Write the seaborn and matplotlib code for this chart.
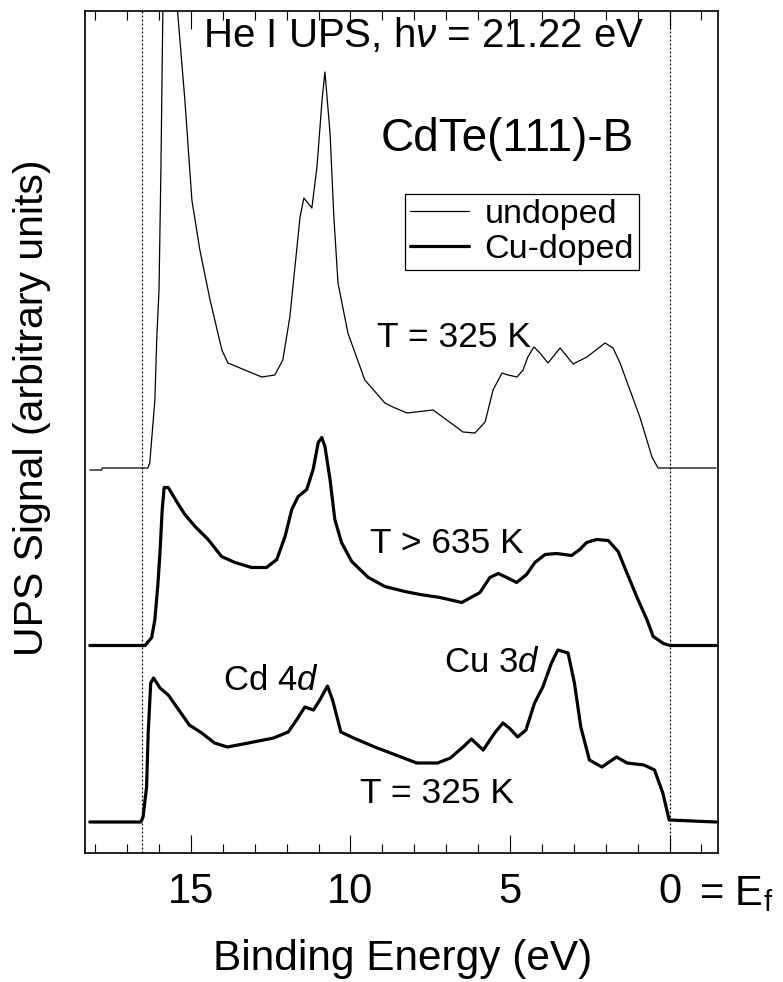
import numpy as np
import pandas as pd
import matplotlib
matplotlib.use("Agg")
import matplotlib.pyplot as plt
import seaborn as sns

# ---------------- data (binding energy in eV, UPS signal in arb. units above each baseline)
undoped_E = [18.17, 17.80, 17.78, 16.35, 16.29, 16.13, 16.07, 16.00, 15.94, 15.88, 15.75, 15.60,
             15.41, 15.19, 14.97, 14.72, 14.40, 14.03, 13.84, 13.31, 12.78, 12.37, 12.12, 11.90,
             11.74, 11.58, 11.46, 11.21, 11.05, 10.89, 10.80, 10.64, 10.52, 10.39, 10.08, 9.55,
             8.92, 8.67, 8.23, 7.41, 6.98, 6.47, 6.10, 5.78, 5.53, 5.25, 5.06, 4.78, 4.59, 4.44,
             4.25, 4.06, 3.81, 3.43, 3.02, 2.59, 2.02, 1.77, 1.55, 1.24, 0.93, 0.71, 0.55, 0.36, -1.46]
undoped_I = [-2, -2, 0, 0, 5, 68, 130, 178, 300, 457, 560, 520,
             453, 368, 268, 218, 168, 118, 105, 98, 91, 93, 108, 151,
             201, 251, 270, 260, 301, 368, 396, 335, 251, 185, 135, 88,
             65, 61, 55, 58, 48, 36, 35, 46, 78, 95, 93, 91, 98, 111,
             121, 115, 105, 120, 104, 111, 125, 120, 105, 78, 51, 28, 11, 0, 0]

cu_hot_E = [18.17, 16.44, 16.23, 16.13, 16.04, 15.97, 15.90, 15.84, 15.71, 15.45, 15.19, 14.87,
            14.46, 14.04, 13.62, 13.10, 12.63, 12.31, 12.05, 11.84, 11.64, 11.37, 11.17, 11.01,
            10.90, 10.80, 10.64, 10.49, 10.28, 9.96, 9.44, 8.92, 8.29, 7.82, 7.19, 6.51, 5.94,
            5.63, 5.37, 5.10, 4.79, 4.48, 4.22, 3.90, 3.54, 3.07, 2.81, 2.60, 2.28, 1.92, 1.61,
            1.34, 1.03, 0.71, 0.51, 0.19, -0.02, -1.46]
cu_hot_I = [0, 0, 8, 26, 59, 93, 136, 158, 158, 144, 131, 119,
            106, 89, 83, 78, 78, 86, 109, 136, 149, 156, 176, 203,
            208, 199, 166, 126, 103, 84, 68, 59, 54, 51, 48, 43, 53,
            68, 72, 68, 63, 71, 83, 91, 92, 90, 96, 103, 106, 105, 94,
            73, 49, 26, 9, 2, 0, 0]

cu_rt_E = [18.17, 16.57, 16.50, 16.39, 16.34, 16.26, 16.17, 15.97, 15.71, 15.38, 15.05, 14.66,
           14.26, 13.86, 13.20, 12.41, 11.95, 11.69, 11.43, 11.16, 10.96, 10.72, 10.56, 10.30,
           9.90, 9.24, 8.58, 7.92, 7.27, 6.87, 6.47, 6.21, 5.84, 5.48, 5.22, 5.02, 4.76, 4.50,
           4.23, 3.97, 3.70, 3.50, 3.18, 2.98, 2.78, 2.51, 2.12, 1.66, 1.33, 0.80, 0.47, 0.21,
           0.01, -1.46]
cu_rt_I = [0, 0, 5, 35, 89, 139, 144, 134, 127, 112, 97, 89,
           79, 75, 79, 84, 90, 102, 115, 112, 122, 136, 122, 90,
           84, 75, 67, 59, 59, 64, 75, 83, 72, 89, 99, 94, 85, 92,
           119, 135, 159, 172, 169, 139, 95, 62, 55, 65, 59, 57, 52, 29,
           2, 0]

offset_undoped = 385
offset_cu_hot = 207.5
offset_cu_rt = 31

x_ticks = [15, 10, 5, 0]
x_ticklabels = ["15", "10", "5", "0"]
edge_lines = [16.53, 0.0]

# ---------------- style
sns.set_style("ticks")
plt.rcParams["font.family"] = ["Liberation Sans", "DejaVu Sans"]
plt.rcParams["mathtext.fontset"] = "custom"
plt.rcParams["mathtext.rm"] = "Liberation Sans"
plt.rcParams["mathtext.it"] = "Liberation Sans:italic"
plt.rcParams["mathtext.bf"] = "Liberation Sans:bold"
plt.rcParams["text.color"] = "black"
plt.rcParams["axes.labelcolor"] = "black"
plt.rcParams["xtick.color"] = "black"
plt.rcParams["ytick.color"] = "black"
plt.rcParams["axes.edgecolor"] = "black"

W, H = 783, 982
fig = plt.figure(figsize=(W / 100, H / 100), dpi=100)
ax = fig.add_axes([85 / W, 1 - 853 / H, (718 - 85) / W, (853 - 11) / H])


def P(x, y):
    return x / W, 1 - y / H


df_u = pd.DataFrame({"E": undoped_E, "I": np.array(undoped_I) + offset_undoped})
df_h = pd.DataFrame({"E": cu_hot_E, "I": np.array(cu_hot_I) + offset_cu_hot})
df_r = pd.DataFrame({"E": cu_rt_E, "I": np.array(cu_rt_I) + offset_cu_rt})

sns.lineplot(data=df_u, x="E", y="I", ax=ax, color="black", linewidth=0.9,
             estimator=None, sort=False, label="undoped")
sns.lineplot(data=df_h, x="E", y="I", ax=ax, color="black", linewidth=2.3,
             estimator=None, sort=False, label="Cu-doped")
sns.lineplot(data=df_r, x="E", y="I", ax=ax, color="black", linewidth=2.3,
             estimator=None, sort=False, label="_nolegend_")

for xv in edge_lines:
    ax.axvline(xv, color="black", linewidth=0.9, linestyle=(0, (1.6, 1.6)))

ax.set_xlim(18.32, -1.52)
ax.set_ylim(0, 842)
ax.set_xticks(x_ticks)
ax.set_xticklabels(x_ticklabels)
ax.set_xticks(np.arange(-1, 19, 1), minor=True)
ax.set_yticks([])
ax.tick_params(axis="x", which="both", direction="in", top=True, bottom=True,
               labelsize=30, pad=14, colors="black", labelcolor="black")
ax.tick_params(axis="x", which="major", length=13, width=0.8)
ax.tick_params(axis="x", which="minor", length=6.5, width=0.8)
ax.set_xlabel("")
ax.set_ylabel("")
for s in ax.spines.values():
    s.set_color("black")
    s.set_linewidth(1.2)

# legend
handles = [l for l in ax.get_lines() if l.get_label() in ("undoped", "Cu-doped")]
leg = ax.legend(handles=handles, labels=["undoped", "Cu-doped"], loc="upper right",
                bbox_to_anchor=P(639, 194), bbox_transform=fig.transFigure,
                fontsize=24.5, frameon=True, fancybox=False, framealpha=1,
                edgecolor="black", handlelength=1.75, handletextpad=0.45,
                borderpad=0.15, labelspacing=0.1, borderaxespad=0)
leg.get_frame().set_linewidth(0.9)
for t in leg.get_texts():
    t.set_color("black")

# texts
TK = dict(color="black")
fig.text(*P(424, 47), r"He I UPS, h$\nu$ = 21.22 eV", ha="center", va="baseline", fontsize=29, **TK)
fig.text(*P(507, 151), "CdTe(111)-B", ha="center", va="baseline", fontsize=33, **TK)
fig.text(*P(454, 347), "T = 325 K", ha="center", va="baseline", fontsize=25.5, **TK)
fig.text(*P(447, 553), "T > 635 K", ha="center", va="baseline", fontsize=25.5, **TK)
fig.text(*P(271, 690), r"Cd 4$d$", ha="center", va="baseline", fontsize=25, **TK)
fig.text(*P(492, 672), r"Cu 3$d$", ha="center", va="baseline", fontsize=25, **TK)
fig.text(*P(437, 803), "T = 325 K", ha="center", va="baseline", fontsize=25.5, **TK)
fig.text(*P(699, 905), r"= E$_\mathrm{f}$", ha="left", va="baseline", fontsize=30, **TK)
fig.text(*P(403, 970), "Binding Energy (eV)", ha="center", va="baseline", fontsize=30.5, **TK)
fig.text(*P(32, 408), "UPS Signal (arbitrary units)", ha="center", va="center",
         rotation=90, fontsize=29.5, **TK)

fig.savefig("out.png", dpi=100)
